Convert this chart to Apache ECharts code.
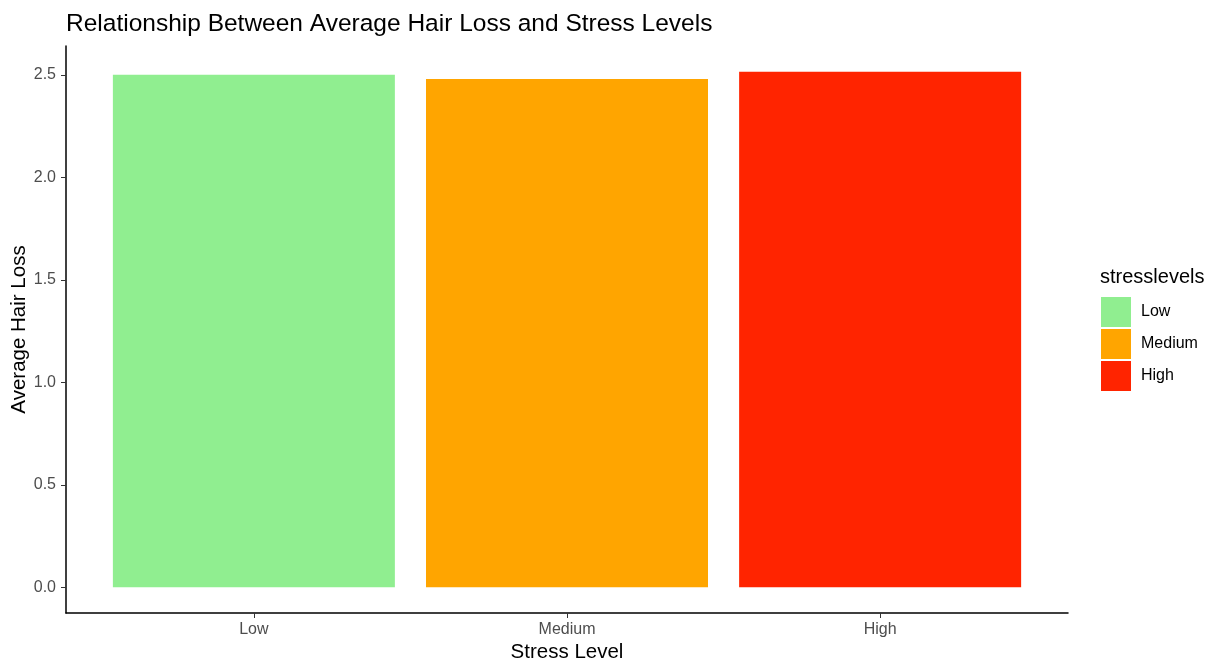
<!DOCTYPE html>
<html>
<head>
<meta charset="utf-8">
<script src="https://cdn.jsdelivr.net/npm/echarts@6/dist/echarts.min.js"></script>
<style>html,body{margin:0;padding:0;background:#fff;}#c{width:1221px;height:661px;}</style>
</head>
<body>
<div id="c"></div>
<script>
const categories = ["Low", "Medium", "High"];
const values = [2.50, 2.48, 2.515];
const colors = ["#90EE90", "#FFA500", "#FF2400"];
const yTicks = [0, 0.5, 1.0, 1.5, 2.0, 2.5];

const font = "Liberation Sans, Arial, Helvetica, sans-serif";
const chart = echarts.init(document.getElementById('c'));

const series = categories.map((name, i) => ({
  name: name,
  type: 'bar',
  barWidth: 282,
  barGap: '-100%',
  itemStyle: { color: colors[i] },
  data: [[i + 1, values[i]]],
  silent: true
}));

chart.setOption({
  animation: false,
  backgroundColor: '#fff',
  title: [
    { text: 'Relationship Between Average Hair Loss and Stress Levels', left: 61, top: 7,
      textStyle: { fontFamily: font, fontSize: 24.5, fontWeight: 'normal', color: '#000' } },
    { text: 'stresslevels', left: 1095, top: 262,
      textStyle: { fontFamily: font, fontSize: 20, fontWeight: 'normal', color: '#000' } }
  ],
  legend: {
    orient: 'vertical', left: 1096, top: 292, itemWidth: 30, itemHeight: 30, itemGap: 2,
    icon: 'rect', data: categories,
    textStyle: { fontFamily: font, fontSize: 16, color: '#000', padding: [0, 0, 0, 5] }
  },
  grid: { left: 66, right: 153, top: 46, bottom: 48, outerBoundsMode: 'none', containLabel: false },
  xAxis: {
    type: 'value', min: 0.4, max: 3.6,
    name: 'Stress Level', nameLocation: 'middle', nameGap: 29, nameMoveOverlap: false,
    nameTextStyle: { fontFamily: font, fontSize: 20.5, color: '#000' },
    splitLine: { show: false },
    axisLine: { show: true, onZero: false, lineStyle: { color: '#000', width: 1.5 } },
    axisTick: { show: true, customValues: [1, 2, 3], length: 5, lineStyle: { color: '#333' } },
    axisLabel: { customValues: [1, 2, 3], formatter: v => categories[Math.round(v) - 1] || '',
      fontFamily: font, fontSize: 16, color: '#4d4d4d', margin: 9 }
  },
  yAxis: {
    type: 'value', min: -0.1257, max: 2.6407,
    name: 'Average Hair Loss', nameLocation: 'middle', nameGap: 36, nameRotate: 90, nameMoveOverlap: false,
    nameTextStyle: { fontFamily: font, fontSize: 20.5, color: '#000' },
    splitLine: { show: false },
    axisLine: { show: true, onZero: false, lineStyle: { color: '#000', width: 1.5 } },
    axisTick: { show: true, customValues: yTicks, length: 5, lineStyle: { color: '#333' } },
    axisLabel: { customValues: yTicks, formatter: v => v.toFixed(1),
      fontFamily: font, fontSize: 16, color: '#4d4d4d', margin: 10 }
  },
  series: series
});
</script>
</body>
</html>
